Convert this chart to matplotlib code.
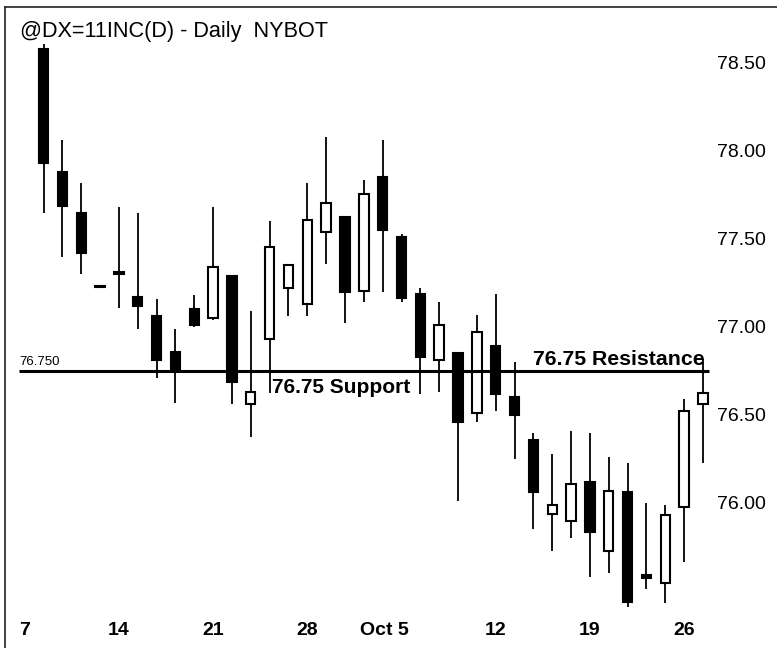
import matplotlib
matplotlib.use("Agg")
import matplotlib.pyplot as plt
import matplotlib.transforms as mtransforms

plt.rcParams['font.family'] = ['Liberation Sans', 'DejaVu Sans']

# Trading days, index 0 = Sep 7 (no candle drawn for it)
dates = ["Sep 10", "Sep 11", "Sep 12", "Sep 13", "Sep 14",
         "Sep 17", "Sep 18", "Sep 19", "Sep 20", "Sep 21",
         "Sep 24", "Sep 25", "Sep 26", "Sep 27", "Sep 28",
         "Oct 1", "Oct 2", "Oct 3", "Oct 4", "Oct 5",
         "Oct 8", "Oct 9", "Oct 10", "Oct 11", "Oct 12",
         "Oct 15", "Oct 16", "Oct 17", "Oct 18", "Oct 19",
         "Oct 22", "Oct 23", "Oct 24", "Oct 25", "Oct 26",
         "Oct 29"]
day_index = list(range(1, 37))

opens = [78.58, 77.88, 77.65, 77.235, 77.31,
         77.17, 77.06, 76.86, 77.10, 77.05,
         77.29, 76.56, 76.93, 77.22, 77.13,
         77.54, 77.625, 77.205, 77.85, 77.51,
         77.19, 76.81, 76.85, 76.51, 76.89,
         76.60, 76.36, 75.94, 75.90, 76.12,
         75.73, 76.06, 75.59, 75.545, 75.98,
         76.56]
highs = [78.61, 78.06, 77.82, 77.24, 77.68,
         77.65, 77.16, 76.99, 77.18, 77.68,
         77.29, 77.09, 77.60, 77.35, 77.82,
         78.08, 77.63, 77.835, 78.06, 77.53,
         77.22, 77.14, 76.85, 77.07, 77.19,
         76.80, 76.40, 76.28, 76.41, 76.40,
         76.26, 76.23, 76.00, 75.99, 76.59,
         76.82]
lows = [77.65, 77.40, 77.30, 77.22, 77.11,
        76.99, 76.71, 76.57, 77.00, 77.04,
        76.56, 76.375, 76.625, 77.06, 77.06,
        77.36, 77.02, 77.14, 77.20, 77.14,
        76.62, 76.63, 76.01, 76.46, 76.52,
        76.25, 75.85, 75.73, 75.80, 75.58,
        75.60, 75.41, 75.51, 75.43, 75.665,
        76.23]
closes = [77.93, 77.69, 77.42, 77.225, 77.30,
          77.12, 76.81, 76.75, 77.01, 77.34,
          76.69, 76.63, 77.455, 77.35, 77.61,
          77.705, 77.20, 77.756, 77.55, 77.165,
          76.83, 77.01, 76.46, 76.97, 76.62,
          76.50, 76.06, 75.99, 76.11, 75.835,
          76.07, 75.44, 75.575, 75.93, 76.52,
          76.625]

level = 76.75
title = "@DX=11INC(D) - Daily  NYBOT"
x_tick_pos = [0, 5, 10, 15, 20, 25, 30, 35]
x_tick_labels = ["7", "14", "21", "28", "Oct 5", "12", "19", "26"]
y_ticks = [76.0, 76.5, 77.0, 77.5, 78.0, 78.5]
y_tick_labels = ["76.00", "76.50", "77.00", "77.50", "78.00", "78.50"]

W, H = 777, 648
fig = plt.figure(figsize=(W / 100, H / 100), dpi=100)
ax = fig.add_axes([5 / W, 0, (W - 5) / W, (H - 7) / H])

px_per_day = 18.84
x0_px = 24.7
ax.set_xlim((5 - x0_px) / px_per_day, (W - x0_px) / px_per_day)
px_per_unit = 176.0
y_ref_px = 371.0
ax.set_ylim(level - (H - y_ref_px) / px_per_unit, level + (y_ref_px - 7) / px_per_unit)

# wicks
ax.vlines(day_index, lows, highs, color="black", linewidth=1.3, zorder=2)
# bodies
bw = 0.5
for i, o, c in zip(day_index, opens, closes):
    up = c >= o
    ax.bar(i, abs(c - o), bottom=min(o, c), width=bw,
           color="white" if up else "black", edgecolor="black",
           linewidth=1.5, zorder=3)

# support / resistance line
ax.hlines(level, -0.3, 36.3, color="black", linewidth=2.2, zorder=5)
ax.annotate("76.750", xy=(-0.3, level), xytext=(0, 4), textcoords="offset points",
            ha="left", va="baseline", fontsize=9.5, zorder=6)
ax.annotate("76.75 Support", xy=(13.13, level), xytext=(0, -5), textcoords="offset points",
            ha="left", va="top", fontsize=15, fontweight="bold", zorder=6)
ax.annotate("76.75 Resistance", xy=(26.98, level), xytext=(0, 4.3), textcoords="offset points",
            ha="left", va="baseline", fontsize=15.3, fontweight="bold", zorder=6)

# axes styling
for s in ["right", "bottom"]:
    ax.spines[s].set_visible(False)
for s in ["left", "top"]:
    ax.spines[s].set_linewidth(1.2)
    ax.spines[s].set_color("#222222")

ax.yaxis.tick_right()
ax.set_yticks(y_ticks)
ax.set_yticklabels(y_tick_labels)
ax.tick_params(axis="y", length=0, pad=-43.5, labelsize=14)

ax.set_xticks(x_tick_pos)
ax.set_xticklabels(x_tick_labels)
ax.tick_params(axis="x", length=0, pad=-18.5, labelsize=14)
for lab in ax.get_xticklabels():
    lab.set_fontweight("bold")
    if lab.get_text().startswith("Oct"):
        lab.set_ha("right")
        lab.set_transform(lab.get_transform() +
                          mtransforms.ScaledTranslation(7 / 100, 0, fig.dpi_scale_trans))

fig.text(20 / W, 1 - 31 / H, title, ha="left", va="center", fontsize=15.6)

fig.savefig("out.png", dpi=100)
